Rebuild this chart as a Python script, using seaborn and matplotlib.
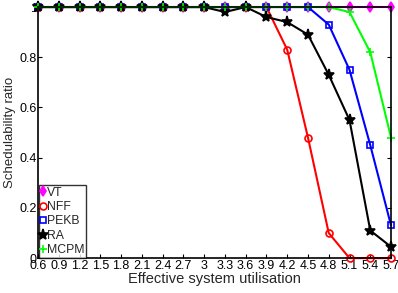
import matplotlib
matplotlib.use('Agg')
import matplotlib.pyplot as plt
import pandas as pd
import seaborn as sns

# data
util = [0.6, 0.9, 1.2, 1.5, 1.8, 2.1, 2.4, 2.7, 3.0, 3.3, 3.6, 3.9, 4.2, 4.5, 4.8, 5.1, 5.4, 5.7]
tick_labels = ['0.6', '0.9', '1.2', '1.5', '1.8', '2.1', '2.4', '2.7', '3', '3.3', '3.6', '3.9',
               '4.2', '4.5', '4.8', '5.1', '5.4', '5.7']
vt = [1.0] * 18
nff = [1.0] * 12 + [0.83, 0.48, 0.10, 0.0, 0.0, 0.0]
pekb = [1.0] * 14 + [0.93, 0.75, 0.45, 0.13]
ra = [1.0] * 9 + [0.98, 1.0, 0.96, 0.94, 0.89, 0.73, 0.55, 0.11, 0.045]
mcpm = [1.0] * 15 + [0.98, 0.82, 0.48]

series = {'VT': vt, 'NFF': nff, 'PEKB': pekb, 'RA': ra, 'MCPM': mcpm}
styles = {
    'VT': dict(color='#ff00ff', marker='d', mfc='#ff00ff', ms=5),
    'NFF': dict(color='red', marker='o', mfc='none', ms=5),
    'PEKB': dict(color='blue', marker='s', mfc='none', ms=4),
    'RA': dict(color='black', marker='*', mfc='black', ms=8),
    'MCPM': dict(color='#00ff00', marker='+', mfc='none', ms=6),
}

sns.set_style('ticks')
plt.rcParams['font.family'] = ['Liberation Sans', 'DejaVu Sans']

fig = plt.figure(figsize=(3.98, 2.93), dpi=100)
ax = fig.add_axes([0.0955, 0.119, 0.887, 0.857])

for name, vals in series.items():
    df = pd.DataFrame({'u': util, 'r': vals})
    st = styles[name]
    sns.lineplot(data=df, x='u', y='r', ax=ax, color=st['color'], marker=st['marker'],
                 markerfacecolor=st['mfc'], markeredgecolor=st['color'], markersize=st['ms'],
                 markeredgewidth=1.2, linewidth=1.5, label=name, clip_on=False)

ax.set_xlim(0.6, 5.7)
ax.set_ylim(0, 1)
ax.set_xticks(util)
ax.set_xticklabels(tick_labels)
ax.set_yticks([0, 0.2, 0.4, 0.6, 0.8, 1])
ax.set_yticklabels(['0', '0.2', '0.4', '0.6', '0.8', '1'])
ax.tick_params(direction='in', length=3, width=0.8, labelsize=9, pad=1,
               top=False, right=True, colors='black')
for sp in ax.spines.values():
    sp.set_visible(True)
    sp.set_color('black')
    sp.set_linewidth(1.2)
ax.set_xlabel('Effective system utilisation', fontsize=10.5, labelpad=0)
ax.set_ylabel('Schedulability ratio', fontsize=9.5, labelpad=2)

leg = ax.legend(loc='lower left', handlelength=0.5, handletextpad=0.1, borderpad=0.1,
                labelspacing=0.2, fontsize=8.8, frameon=True, fancybox=False,
                borderaxespad=0.05)
leg.get_frame().set_edgecolor('black')
leg.get_frame().set_linewidth(1.0)
for line in leg.get_lines():
    line.set_linestyle('none')

fig.savefig('out.png', dpi=100)
